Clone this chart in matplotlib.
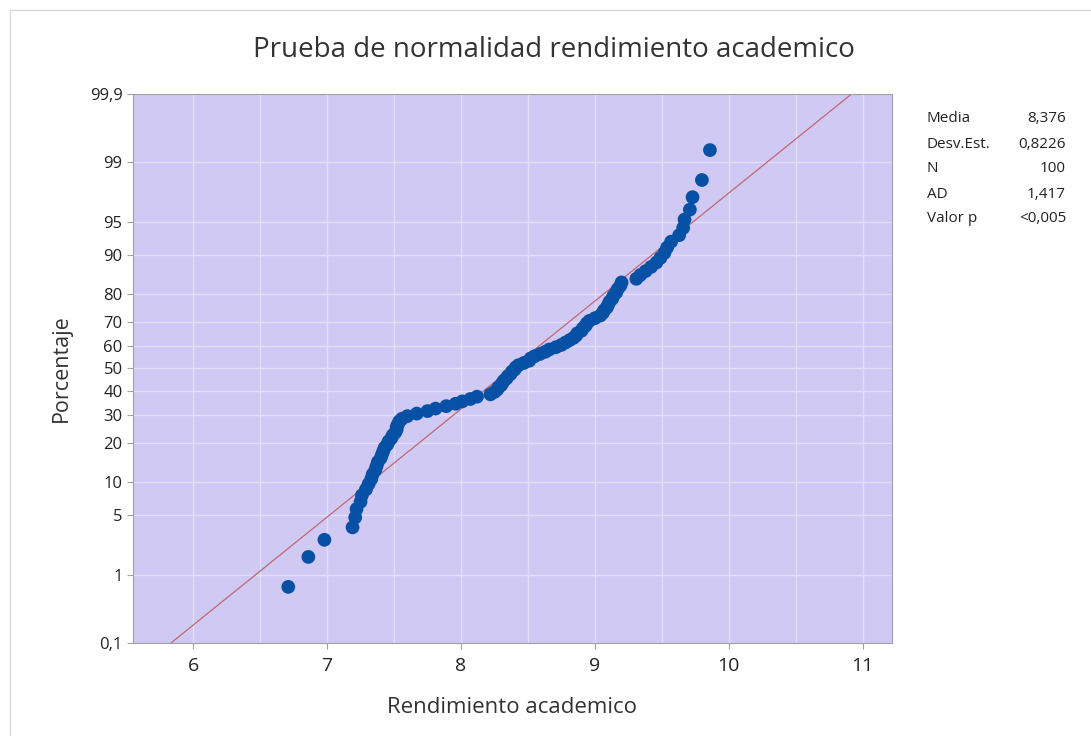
import matplotlib
matplotlib.use("Agg")
import matplotlib.pyplot as plt
from matplotlib.patches import Rectangle
from statistics import NormalDist
import numpy as np

# ---- data (sorted values) ----
rendimiento = [
    6.71, 6.86, 6.98, 7.19, 7.21, 7.22, 7.25, 7.26, 7.29, 7.31,
    7.33, 7.34, 7.36, 7.37, 7.38, 7.40, 7.41, 7.42, 7.43, 7.45,
    7.46, 7.48, 7.49, 7.51, 7.52, 7.52, 7.53, 7.54, 7.56, 7.60,
    7.67, 7.75, 7.81, 7.89, 7.96, 8.01, 8.07, 8.12, 8.22, 8.25,
    8.27, 8.28, 8.30, 8.31, 8.32, 8.34, 8.35, 8.37, 8.38, 8.40,
    8.41, 8.43, 8.47, 8.51, 8.52, 8.55, 8.59, 8.63, 8.66, 8.71,
    8.75, 8.78, 8.81, 8.84, 8.86, 8.87, 8.90, 8.91, 8.93, 8.94,
    8.96, 9.00, 9.04, 9.06, 9.07, 9.09, 9.10, 9.11, 9.13, 9.14,
    9.16, 9.17, 9.19, 9.20, 9.31, 9.34, 9.38, 9.42, 9.46, 9.49,
    9.52, 9.54, 9.57, 9.63, 9.66, 9.67, 9.71, 9.73, 9.80, 9.86,
]
media = 8.376
desv = 0.8226
stat_labels = ["Media", "Desv.Est.", "N", "AD", "Valor p"]
stat_values = ["8,376", "0,8226", "100", "1,417", "<0,005"]
pct_ticks = [0.1, 1, 5, 10, 20, 30, 40, 50, 60, 70, 80, 90, 95, 99, 99.9]
pct_labels = ["0,1", "1", "5", "10", "20", "30", "40", "50", "60", "70",
              "80", "90", "95", "99", "99,9"]
x_ticks = [6, 7, 8, 9, 10, 11]

nd = NormalDist()
n = len(rendimiento)
zpts = [nd.inv_cdf((i + 1 - 0.3) / (n + 0.4)) for i in range(n)]
ztick = [nd.inv_cdf(p / 100.0) for p in pct_ticks]

plt.rcParams['font.family'] = ['Open Sans', 'DejaVu Sans']

fig = plt.figure(figsize=(10.91, 7.36), dpi=100)
fig.patch.set_facecolor("white")
fig.add_artist(Rectangle((0.009, -0.01), 1.0, 0.997, transform=fig.transFigure,
                         fill=False, edgecolor="#D9D9D9", linewidth=1.0))

ax = fig.add_axes([0.1219, 0.1264, 0.6957, 0.7459])
ax.set_facecolor("#D0C9F4")

zmin, zmax = ztick[0], ztick[-1]
ax.set_ylim(zmin, zmax)
ax.set_xlim(5.55, 11.22)

# grid
for gx in np.arange(6.0, 11.01, 0.5):
    ax.axvline(gx, color="#E3DEF8", linewidth=1.0, zorder=1)
for gz in ztick[1:-1]:
    ax.axhline(gz, color="#E3DEF8", linewidth=1.0, zorder=1)

# fitted line
zl = np.array([zmin, zmax])
ax.plot(media + desv * zl, zl, color="#C06870", linewidth=0.9, zorder=2)

ax.scatter(rendimiento, zpts, s=98, color="#0651A5", edgecolors="none", zorder=3)

ax.set_yticks(ztick)
ax.set_yticklabels(pct_labels)
ax.set_xticks(x_ticks)
ax.set_xticklabels([str(t) for t in x_ticks])
ax.tick_params(axis="both", colors="#A0A0A0", labelcolor="#222222", length=4,
               width=0.8, labelsize=12)
ax.tick_params(axis="x", labelsize=14, pad=6)
for sp in ax.spines.values():
    sp.set_color("#A0A0A0")
    sp.set_linewidth(0.8)

ax.set_xlabel("Rendimiento academico", fontsize=16, color="#333333", labelpad=16)
ax.set_ylabel("Porcentaje", fontsize=15.5, color="#333333", labelpad=13)

fig.text(0.508, 0.932, "Prueba de normalidad rendimiento academico", ha="center",
         va="center", fontsize=20, color="#333333")

y0 = 736 - 119
for k, (lab, val) in enumerate(zip(stat_labels, stat_values)):
    yy = (y0 - k * 25) / 736
    fig.text(927 / 1091, yy, lab, ha="left", va="center", fontsize=11, color="#222222")
    fig.text(1066 / 1091, yy, val, ha="right", va="center", fontsize=11, color="#222222")

fig.savefig("out.png", dpi=100, facecolor="white")
